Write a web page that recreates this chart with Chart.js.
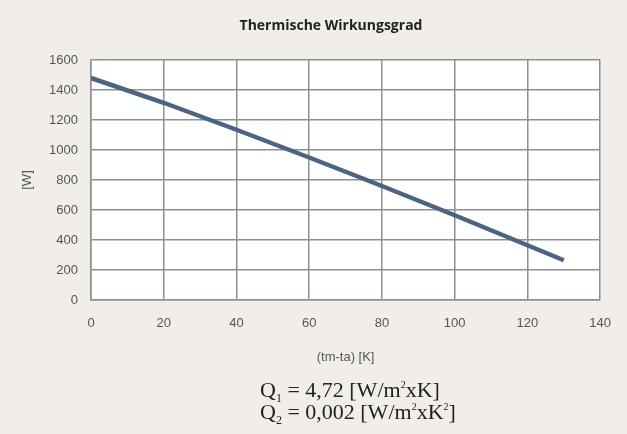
<!DOCTYPE html>
<html><head><meta charset="utf-8">
<script src="https://cdn.jsdelivr.net/npm/chart.js@4/dist/chart.umd.min.js"></script>
<style>
html,body{margin:0;padding:0;background:#f1eee9;}
#wrap{position:relative;width:627px;height:434px;}
#title{position:absolute;left:131px;width:400px;top:15px;text-align:center;font-family:"Open Sans",sans-serif;font-weight:bold;font-size:14px;line-height:20px;color:#222;}
#formula{position:absolute;left:260px;top:379px;text-align:left;font-family:"Liberation Serif","DejaVu Serif",serif;font-size:22px;line-height:22px;color:#222;white-space:nowrap;}
#formula sub{font-size:12px;vertical-align:-5px;line-height:0;}
#formula sup{font-size:10px;vertical-align:9px;line-height:0;}
#formula .l{display:block;}
</style></head>
<body><div id="wrap"><canvas id="c" width="627" height="434"></canvas>
<div id="title"></div>
<div id="formula"><span class="l">Q<sub>1</sub> = 4,72 [W/m<sup>2</sup>xK]</span><span class="l">Q<sub>2</sub> = 0,002 [W/m<sup>2</sup>xK<sup>2</sup>]</span></div></div>
<script>
const titleText = "Thermische Wirkungsgrad";
const xTitle = "(tm-ta) [K]";
const yTitle = "[W]";
const deltaT = [0, 20, 40, 60, 80, 100, 120, 130];
const power = [1480, 1315, 1135, 950, 760, 565, 365, 265];

document.getElementById('title').textContent = titleText;

const plotBg = {
  id: 'plotBg',
  beforeDraw(chart) {
    const {ctx, chartArea: a} = chart;
    ctx.save(); ctx.fillStyle = '#ffffff';
    ctx.fillRect(a.left, a.top, a.right - a.left, a.bottom - a.top);
    ctx.restore();
  }
};

const tickFont = { family: 'Liberation Sans', size: 13 };
new Chart(document.getElementById('c'), {
  type: 'line',
  data: { datasets: [{
    data: deltaT.map((x, i) => ({x: x, y: power[i]})),
    borderColor: '#4a6482', borderWidth: 4.5, pointRadius: 0, tension: 0, fill: false
  }]},
  options: {
    responsive: false, animation: false,
    layout: { padding: { left: 0, right: 26, bottom: 64, top: 60 } },
    plugins: { legend: { display: false }, tooltip: { enabled: false }, title: { display: false } },
    scales: {
      x: { type: 'linear', min: 0, max: 140,
        ticks: { stepSize: 20, color: '#555', font: tickFont, padding: 16, callback: v => String(v) },
        grid: { color: '#8f8f8f', lineWidth: 1.5, drawTicks: false },
        border: { color: '#8f8f8f', width: 1.5 },
        title: { display: true, text: xTitle, color: '#555', font: tickFont, padding: { top: 0, bottom: 5 } },
        afterFit(s) { s.height = 70; }
      },
      y: { min: 0, max: 1600,
        ticks: { stepSize: 200, color: '#555', font: tickFont, padding: 13, callback: v => String(v) },
        grid: { color: '#8f8f8f', lineWidth: 1.5, drawTicks: false },
        border: { color: '#8f8f8f', width: 1.5 },
        title: { display: true, text: yTitle, color: '#555', font: tickFont, padding: { top: 20, bottom: 0 } },
        afterFit(s) { s.width = 91; }
      }
    }
  },
  plugins: [plotBg]
});
</script></body></html>
